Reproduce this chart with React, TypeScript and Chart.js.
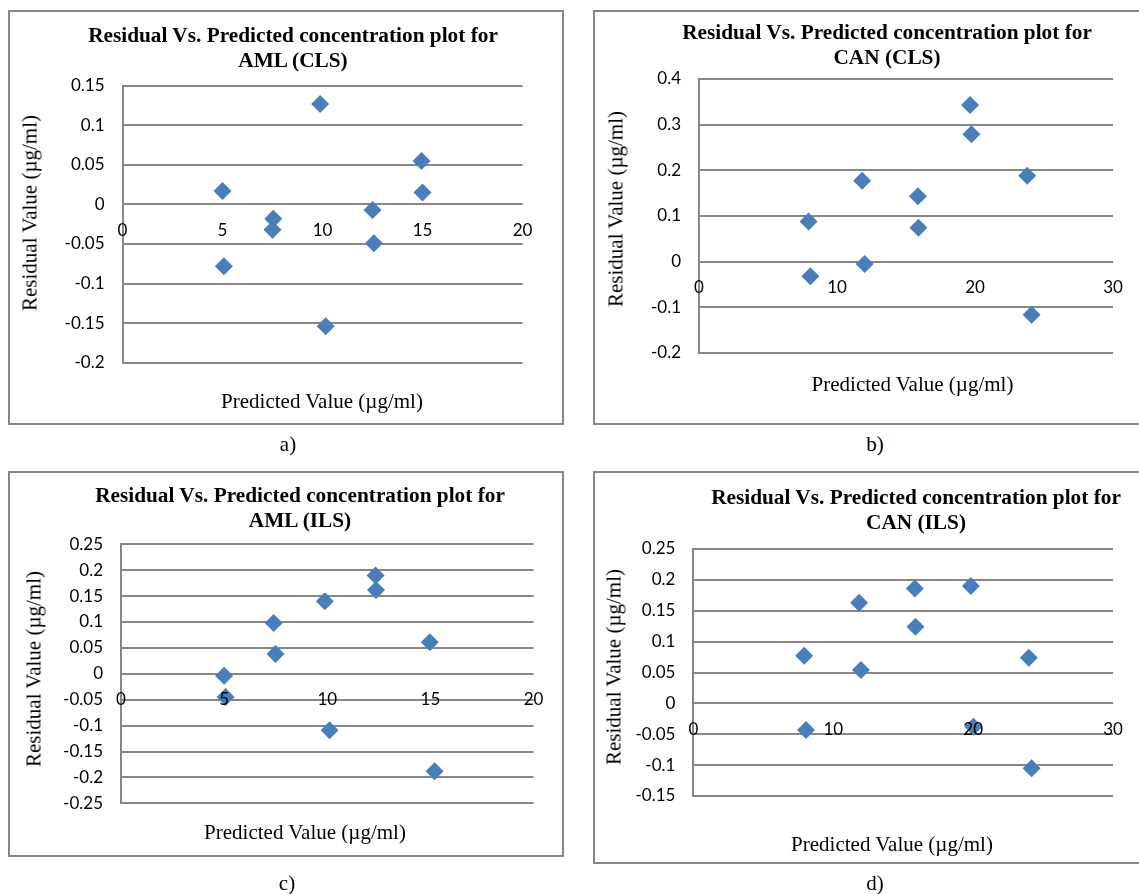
import React, { useEffect, useRef } from 'react';
import { Chart, registerables } from 'chart.js';

Chart.register(...registerables);

// ---------------- Data ----------------
const amlClsPredicted = [5.0, 5.07, 7.54, 7.5, 9.88, 10.16, 12.5, 12.57, 14.95, 15.0];
const amlClsResidual = [0.017, -0.078, -0.018, -0.032, 0.127, -0.154, -0.007, -0.049, 0.055, 0.015];

const canClsPredicted = [7.94, 8.07, 11.82, 12.0, 15.86, 15.9, 19.64, 19.74, 23.78, 24.1];
const canClsResidual = [0.088, -0.032, 0.177, -0.005, 0.143, 0.074, 0.343, 0.279, 0.188, -0.116];

const amlIlsPredicted = [5.0, 5.07, 7.4, 7.49, 9.88, 10.11, 12.34, 12.36, 14.97, 15.2];
const amlIlsResidual = [-0.004, -0.045, 0.098, 0.038, 0.14, -0.109, 0.19, 0.162, 0.061, -0.188];

const canIlsPredicted = [7.92, 8.05, 11.85, 11.98, 15.83, 15.88, 19.84, 20.02, 23.98, 24.18];
const canIlsResidual = [0.077, -0.043, 0.163, 0.054, 0.186, 0.124, 0.19, -0.038, 0.074, -0.105];

const xTicks20 = [0, 5, 10, 15, 20];
const xTickLabels20 = ['0', '5', '10', '15', '20'];
const xTicks30 = [0, 10, 20, 30];
const xTickLabels30 = ['0', '10', '20', '30'];

const yTicksAmlCls = [-0.2, -0.15, -0.1, -0.05, 0, 0.05, 0.1, 0.15];
const yTickLabelsAmlCls = ['-0.2', '-0.15', '-0.1', '-0.05', '0', '0.05', '0.1', '0.15'];
const yTicksCanCls = [-0.2, -0.1, 0, 0.1, 0.2, 0.3, 0.4];
const yTickLabelsCanCls = ['-0.2', '-0.1', '0', '0.1', '0.2', '0.3', '0.4'];
const yTicksAmlIls = [-0.25, -0.2, -0.15, -0.1, -0.05, 0, 0.05, 0.1, 0.15, 0.2, 0.25];
const yTickLabelsAmlIls = ['-0.25', '-0.2', '-0.15', '-0.1', '-0.05', '0', '0.05', '0.1', '0.15', '0.2', '0.25'];
const yTicksCanIls = [-0.15, -0.1, -0.05, 0, 0.05, 0.1, 0.15, 0.2, 0.25];
const yTickLabelsCanIls = ['-0.15', '-0.1', '-0.05', '0', '0.05', '0.1', '0.15', '0.2', '0.25'];

const titleLine1 = 'Residual Vs. Predicted concentration plot for';
const titleLine2 = ['AML (CLS)', 'CAN (CLS)', 'AML (ILS)', 'CAN (ILS)'];
const yAxisTitle = 'Residual Value (\u00b5g/ml)';
const xAxisTitle = 'Predicted Value (\u00b5g/ml)';
const panelLetters = ['a)', 'b)', 'c)', 'd)'];

// ---------------- Layout (pixels on page) ----------------
const panels = [
  {
    xs: amlClsPredicted, ys: amlClsResidual, xTicks: xTicks20, xLabels: xTickLabels20,
    yTicks: yTicksAmlCls, yLabels: yTickLabelsAmlCls,
    box: { left: 8, top: 10, right: 564, bottom: 425 },
    area: { left: 122.5, top: 85.7, right: 522.5, bottom: 362.7 },
    title: { cx: 293, top: 23 }, yTitle: { cx: 30, cy: 213 }, xTitle: { cx: 322, top: 389 },
    letter: { cx: 288, top: 432 },
  },
  {
    xs: canClsPredicted, ys: canClsResidual, xTicks: xTicks30, xLabels: xTickLabels30,
    yTicks: yTicksCanCls, yLabels: yTickLabelsCanCls,
    box: { left: 593, top: 10, right: 1145, bottom: 425 },
    area: { left: 699, top: 79, right: 1113, bottom: 353 },
    title: { cx: 887, top: 19.5 }, yTitle: { cx: 616, cy: 209 }, xTitle: { cx: 912.5, top: 372 },
    letter: { cx: 875, top: 432 },
  },
  {
    xs: amlIlsPredicted, ys: amlIlsResidual, xTicks: xTicks20, xLabels: xTickLabels20,
    yTicks: yTicksAmlIls, yLabels: yTickLabelsAmlIls,
    box: { left: 8, top: 471, right: 564, bottom: 857 },
    area: { left: 121, top: 544.3, right: 533.6, bottom: 803.3 },
    title: { cx: 300, top: 482.7 }, yTitle: { cx: 34, cy: 669 }, xTitle: { cx: 305, top: 820 },
    letter: { cx: 287, top: 870.5 },
  },
  {
    xs: canIlsPredicted, ys: canIlsResidual, xTicks: xTicks30, xLabels: xTickLabels30,
    yTicks: yTicksCanIls, yLabels: yTickLabelsCanIls,
    box: { left: 593, top: 471, right: 1145, bottom: 864 },
    area: { left: 693.4, top: 549, right: 1113, bottom: 796 },
    title: { cx: 916, top: 484.7 }, yTitle: { cx: 614, cy: 666.5 }, xTitle: { cx: 892, top: 832 },
    letter: { cx: 875, top: 870.5 },
  },
];

const GRID = '#878787';
const MARKER = '#4A7EBB';
const SERIF = "'Liberation Serif', 'Times New Roman', serif";
const TICK_FONT = { family: 'Lato, Carlito, Calibri, sans-serif', size: 17 };

function ScatterPanel({ p }: { p: any }) {
  const ref = useRef<HTMLCanvasElement>(null);
  const w = p.box.right - p.box.left;
  const h = p.box.bottom - p.box.top;

  useEffect(() => {
    const canvas = ref.current as HTMLCanvasElement;
    const yWidth = p.area.left - p.box.left;
    const chart = new Chart(canvas, {
      type: 'scatter',
      data: {
        datasets: [
          {
            data: p.xs.map((x: number, i: number) => ({ x, y: p.ys[i] })),
            pointStyle: 'rectRot',
            pointRadius: 9,
            pointHoverRadius: 9,
            backgroundColor: MARKER,
            borderColor: MARKER,
            borderWidth: 0,
            clip: false,
          } as any,
        ],
      },
      options: {
        animation: false,
        responsive: false,
        maintainAspectRatio: false,
        events: [],
        layout: {
          padding: {
            left: 0,
            top: p.area.top - p.box.top,
            right: p.box.right - p.area.right,
            bottom: p.box.bottom - p.area.bottom,
          },
        },
        plugins: {
          legend: { display: false },
          tooltip: { enabled: false },
          title: { display: false },
        },
        scales: {
          x: {
            type: 'linear',
            position: { y: 0 } as any,
            min: p.xTicks[0],
            max: p.xTicks[p.xTicks.length - 1],
            afterBuildTicks: (s: any) => {
              s.ticks = p.xTicks.map((v: number) => ({ value: v }));
            },
            grid: { display: false },
            border: { display: false },
            ticks: {
              z: 1,
              autoSkip: false,
              maxRotation: 0,
              padding: 8,
              color: '#000',
              font: TICK_FONT,
              callback: (_v: any, i: number) => p.xLabels[i],
            },
          },
          y: {
            type: 'linear',
            position: 'left',
            min: p.yTicks[0],
            max: p.yTicks[p.yTicks.length - 1],
            afterBuildTicks: (s: any) => {
              s.ticks = p.yTicks.map((v: number) => ({ value: v }));
            },
            afterFit: (s: any) => {
              s.width = yWidth;
            },
            grid: { color: GRID, lineWidth: 2, drawTicks: false },
            border: { color: GRID, width: 2 },
            ticks: {
              autoSkip: false,
              padding: 18,
              color: '#000',
              font: TICK_FONT,
              callback: (_v: any, i: number) => p.yLabels[i],
            },
          },
        },
      } as any,
    });
    return () => chart.destroy();
  }, []);

  return (
    <canvas
      ref={ref}
      width={w}
      height={h}
      style={{ position: 'absolute', left: p.box.left, top: p.box.top, width: w, height: h }}
    />
  );
}

const textBase: React.CSSProperties = {
  position: 'absolute',
  fontFamily: SERIF,
  fontSize: 21,
  lineHeight: '25px',
  color: '#000',
  whiteSpace: 'nowrap',
};

export default function App() {
  return (
    <div
      style={{
        position: 'absolute',
        left: 0,
        top: 0,
        width: 1139,
        height: 894,
        overflow: 'hidden',
        background: '#fff',
      }}
    >
      {panels.map((p, i) => (
        <React.Fragment key={i}>
          <div
            style={{
              position: 'absolute',
              left: p.box.left,
              top: p.box.top,
              width: p.box.right - p.box.left,
              height: p.box.bottom - p.box.top,
              border: `2px solid ${GRID}`,
              boxSizing: 'border-box',
            }}
          />
          <ScatterPanel p={p} />
          <div
            style={{
              ...textBase,
              left: p.title.cx,
              top: p.title.top,
              transform: 'translateX(-50%)',
              fontWeight: 'bold',
              fontSize: 21.3,
              textAlign: 'center',
            }}
          >
            <div>{titleLine1}</div>
            <div>{titleLine2[i]}</div>
          </div>
          <div
            style={{
              ...textBase,
              left: p.yTitle.cx,
              top: p.yTitle.cy,
              transform: 'translate(-50%, -50%) rotate(-90deg)',
            }}
          >
            {yAxisTitle}
          </div>
          <div
            style={{
              ...textBase,
              left: p.xTitle.cx,
              top: p.xTitle.top,
              transform: 'translateX(-50%)',
            }}
          >
            {xAxisTitle}
          </div>
          <div
            style={{
              ...textBase,
              left: p.letter.cx,
              top: p.letter.top,
              transform: 'translateX(-50%)',
            }}
          >
            {panelLetters[i]}
          </div>
        </React.Fragment>
      ))}
    </div>
  );
}
